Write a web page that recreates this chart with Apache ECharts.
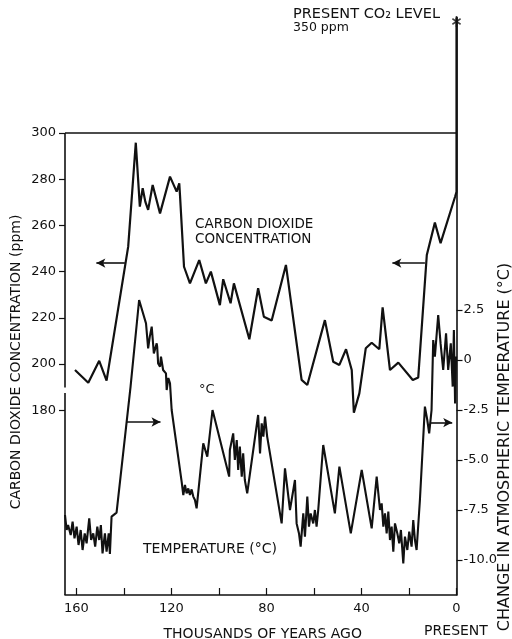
<!DOCTYPE html>
<html>
<head>
<meta charset="utf-8">
<script src="https://cdn.jsdelivr.net/npm/echarts@6/dist/echarts.min.js"></script>
<style>
  html, body { margin: 0; padding: 0; background: #fff; }
  #chart { width: 512px; height: 639px; }
</style>
</head>
<body>
<div id="chart"></div>
<script>
// Vostok ice core: CO2 and temperature over the last ~160,000 years
const co2Years = [160.6,155.0,150.4,147.3,138.2,135.0,133.3,132.1,131.0,129.8,
  127.9,124.8,120.6,117.8,116.7,116.4,114.7,112.2,108.3,105.5,
  103.4,99.6,98.2,95.1,93.7,87.2,83.5,81.1,77.8,71.8,
  65.2,62.8,55.4,51.9,49.3,46.5,44.1,43.2,40.9,38.2,
  35.7,32.5,31.1,28.0,24.5,18.4,16.1,12.5,9.1,6.7,
  0.6,0,0];
const co2Ppm = [197.4,191.9,201.4,192.8,250.8,295.8,268.1,276.1,270.3,266.7,
  277.5,265.2,281.1,274.6,278.2,273.2,242.1,234.9,245.0,234.9,
  240.0,225.5,236.7,226.3,234.9,210.7,232.8,220.5,218.8,242.9,
  193.1,190.9,219.0,201.0,199.6,206.4,197.4,178.9,187.3,206.8,
  209.2,206.4,224.5,197.4,200.6,193.1,194.2,247.2,261.2,252.3,
  272.4,274.5,350];

const tempYears = [164.8,164.1,163.5,162.4,161.6,160.8,159.9,159.1,158.2,157.4,
  156.5,155.7,154.6,153.8,152.9,152.1,151.2,150.4,149.7,149.0,
  148.0,147.3,146.4,145.9,145.2,143.1,137.2,133.6,130.7,129.8,
  129.1,128.3,127.4,126.2,126.0,125.6,124.8,124.4,123.5,122.3,
  122.0,121.3,120.6,119.9,115.7,115.0,114.3,113.6,112.9,112.2,
  111.5,110.8,110.1,109.4,106.6,104.9,102.7,95.7,95.4,94.0,
  93.3,92.5,91.9,91.2,90.4,89.8,89.1,88.1,83.5,82.7,
  82.0,81.3,80.6,79.7,73.6,72.2,70.1,68.0,67.3,66.3,
  65.6,64.5,63.8,62.8,62.1,61.4,60.3,59.6,58.9,58.2,
  56.1,51.2,49.3,44.5,39.9,35.7,33.6,32.2,31.5,30.8,
  30.1,29.4,28.7,28.0,27.3,26.6,25.9,24.9,24.1,23.4,
  22.4,21.7,20.7,19.9,18.9,18.2,17.5,16.8,15.4,13.3,
  12.3,11.5,10.5,9.8,9.1,7.7,6.7,5.6,4.4,3.5,
  2.4,1.6,1.1,0.6,0.2];
const tempChange = [-7.75,-8.5,-8.25,-8.75,-8.08,-8.92,-8.33,-9.25,-8.5,-9.5,
  -8.67,-9.17,-7.92,-9.0,-8.67,-9.33,-8.33,-9.0,-8.25,-9.67,
  -8.67,-9.58,-8.67,-9.7,-7.83,-7.63,-1.33,3.0,1.83,0.58,
  1.17,1.67,0.33,0.83,0.67,-0.17,-0.33,0.17,-0.5,-0.67,
  -1.5,-0.9,-1.17,-2.5,-6.08,-6.75,-6.25,-6.67,-6.42,-6.75,
  -6.47,-6.83,-7.0,-7.42,-4.17,-4.83,-2.5,-5.83,-4.5,-3.67,
  -5.0,-4.0,-5.5,-4.33,-5.83,-4.67,-6.0,-6.67,-2.75,-4.67,
  -3.17,-3.83,-2.83,-3.83,-8.17,-5.42,-7.5,-6.0,-8.17,-8.67,
  -9.33,-7.67,-8.83,-6.83,-8.33,-7.67,-8.17,-7.5,-8.33,-7.5,
  -4.25,-7.67,-5.33,-8.67,-5.5,-8.42,-5.83,-7.5,-7.17,-8.33,
  -7.67,-8.67,-7.58,-9.0,-8.33,-9.58,-8.17,-8.67,-9.17,-8.5,
  -10.17,-8.83,-9.5,-8.58,-9.33,-8.0,-9.0,-9.5,-7.0,-2.33,
  -3.0,-3.67,-2.5,1.0,0.17,2.25,0.83,-0.5,1.33,-0.5,
  0.83,-1.33,1.5,-2.17,0.17];

// present-day reading marked with an asterisk
const presentCo2 = [0, 350];

// tick positions and labels
const yearTicks = [0, 20, 40, 60, 80, 100, 120, 140, 160];
const yearLabels = [0, 40, 80, 120, 160];
const co2Ticks = [180, 200, 220, 240, 260, 280, 300];
const tempTicks = [-10, -7.5, -5, -2.5, 0, 2.5];

const FONT = 'DejaVu Sans';
const INK = '#111111';
const X_MAX = 164.8;

const zip = (a, b) => a.map((v, i) => [v, b[i]]);

const asterisk = 'path://M-1,-6L1,-6L1,6L-1,6Z' +
  'M5.696,2.134L4.696,3.866L-5.696,-2.134L-4.696,-3.866Z' +
  'M-4.696,3.866L-5.696,2.134L4.696,-3.866L5.696,-2.134Z';

function seg(a, b) {
  return [{ coord: a, symbol: 'none' }, { coord: b, symbol: 'none' }];
}
function arrow(a, b) {
  return [{ coord: a, symbol: 'none' }, { coord: b, symbol: 'arrow', symbolSize: [7, 9] }];
}

function txt(text, x, y, size, align, extra) {
  return Object.assign({
    type: 'text', x: x, y: y, silent: true,
    style: {
      text: text, fill: INK, font: size + 'px "' + FONT + '"',
      textAlign: align, align: align,
      textVerticalAlign: 'middle', verticalAlign: 'middle'
    }
  }, extra || {});
}

const chart = echarts.init(document.getElementById('chart'), null, { renderer: 'canvas' });

chart.setOption({
  animation: false,
  backgroundColor: '#ffffff',
  textStyle: { fontFamily: FONT, color: INK },
  grid: { left: 65, right: 55.5, top: 17.5, bottom: 44, containLabel: false, outerBoundsMode: 'none' },
  xAxis: {
    type: 'value', min: 0, max: X_MAX, inverse: true,
    name: 'THOUSANDS OF YEARS AGO', nameLocation: 'middle', nameGap: 32,
    nameTextStyle: { fontFamily: FONT, fontSize: 14, color: INK, padding: [0, 0, 0, 4] },
    axisLine: { show: true, onZero: false, lineStyle: { color: INK, width: 1.6 } },
    axisTick: { show: true, inside: true, length: 7, customValues: yearTicks, lineStyle: { color: INK, width: 1.2 } },
    axisLabel: { customValues: yearLabels, margin: 7, fontFamily: FONT, fontSize: 13, color: INK },
    splitLine: { show: false }
  },
  yAxis: [
    {
      type: 'value', position: 'left', min: 100, max: 350,
      axisLine: { show: false, onZero: false },
      axisTick: { show: true, length: 6, customValues: co2Ticks, lineStyle: { color: INK, width: 1.2 } },
      axisLabel: { customValues: co2Ticks, margin: 9, fontFamily: FONT, fontSize: 13, color: INK },
      splitLine: { show: false }
    },
    {
      type: 'value', position: 'right', min: -11.75, max: 17.125,
      axisLine: { show: true, onZero: false, lineStyle: { color: INK, width: 1.6 } },
      axisTick: { show: true, length: 6, customValues: tempTicks, lineStyle: { color: INK, width: 1.2 } },
      axisLabel: {
        customValues: tempTicks, margin: 7, fontFamily: FONT, fontSize: 13, color: INK,
        formatter: v => (v === 0 ? '0' : (v < 0 ? '-' : '') + Math.abs(v).toFixed(1))
      },
      splitLine: { show: false }
    }
  ],
  series: [
    {
      name: 'CO2', type: 'line', xAxisIndex: 0, yAxisIndex: 0,
      data: zip(co2Years, co2Ppm), showSymbol: false, symbol: 'none',
      lineStyle: { color: INK, width: 2.2 }, z: 3,
      markLine: {
        silent: true, label: { show: false }, animation: false,
        lineStyle: { color: INK, width: 1.6, type: 'solid' },
        data: [
          // chart frame: left edge (broken) and the 300 ppm top rule
          seg([X_MAX, 100], [X_MAX, 187.5]),
          seg([X_MAX, 189.8], [X_MAX, 300]),
          seg([X_MAX, 300], [0, 300]),
          // arrows pointing to the CO2 scale
          arrow([139.6, 243.7], [151.6, 243.7]),
          arrow([13.3, 243.7], [27.0, 243.7])
        ]
      }
    },
    {
      name: 'Temperature', type: 'line', xAxisIndex: 0, yAxisIndex: 1,
      data: zip(tempYears, tempChange), showSymbol: false, symbol: 'none',
      lineStyle: { color: INK, width: 2.1 }, z: 3,
      markLine: {
        silent: true, label: { show: false }, animation: false,
        lineStyle: { color: INK, width: 1.6, type: 'solid' },
        data: [
          arrow([138.7, -3.1], [124.6, -3.1]),
          arrow([11.2, -3.13], [1.8, -3.13])
        ]
      }
    },
    {
      name: 'Present CO2', type: 'scatter', xAxisIndex: 0, yAxisIndex: 0,
      data: [presentCo2], symbol: asterisk, symbolSize: [9, 11], symbolOffset: [0, 4],
      itemStyle: { color: INK }, z: 5, silent: true
    }
  ],
  graphic: [
    txt('PRESENT CO\u2082 LEVEL', 293, 14, 14.5, 'left'),
    txt('350 ppm', 293, 28, 12.5, 'left'),
    txt('CARBON DIOXIDE', 195, 224, 13.5, 'left'),
    txt('CONCENTRATION', 195, 239, 13.5, 'left'),
    txt('\u00B0C', 199, 390, 13, 'left'),
    txt('TEMPERATURE (\u00B0C)', 143, 549, 14, 'left'),
    txt('PRESENT', 456, 631, 14, 'center'),
    txt('CARBON DIOXIDE CONCENTRATION (ppm)', 16, 362, 14, 'center', { rotation: Math.PI / 2 }),
    txt('CHANGE IN ATMOSPHERIC TEMPERATURE (\u00B0C)', 505, 447, 16, 'center', { rotation: Math.PI / 2 })
  ]
});
</script>
</body>
</html>
